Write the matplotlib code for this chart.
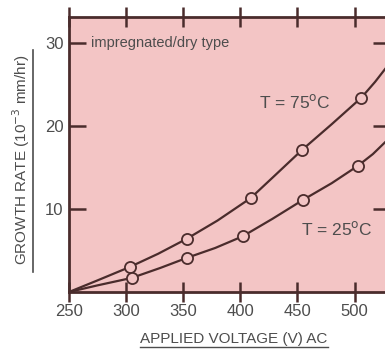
import matplotlib
matplotlib.use('Agg')
import matplotlib.pyplot as plt
from matplotlib.lines import Line2D

plt.rcParams['font.family'] = ['Liberation Sans', 'DejaVu Sans']

# measured points (applied voltage V, growth rate 1e-3 mm/hr)
volt_75 = [303, 353, 409, 454, 506]
rate_75 = [3.0, 6.4, 11.3, 17.1, 23.4]
volt_25 = [305, 353, 402, 455, 503]
rate_25 = [1.7, 4.1, 6.7, 11.1, 15.2]

# traced fitted curves
curve_v75 = [250, 275, 303, 328, 353, 380, 409, 430, 454, 480, 506, 518, 531]
curve_r75 = [0.0, 1.4, 3.0, 4.6, 6.4, 8.6, 11.3, 14.0, 17.1, 20.2, 23.4, 25.3, 27.6]
curve_v25 = [250, 275, 305, 330, 353, 378, 402, 428, 455, 480, 503, 516, 531]
curve_r25 = [0.0, 0.8, 1.7, 2.9, 4.1, 5.3, 6.7, 8.8, 11.1, 13.1, 15.2, 16.6, 18.6]

xticks = [250, 300, 350, 400, 450, 500]
yticks = [10, 20, 30]

ink = '#4a2c2c'
txt = '#4d4d4d'
bg = '#f3c5c5'

fig = plt.figure(figsize=(3.85, 3.49), dpi=100)
ax = fig.add_axes([69 / 385, 57 / 349, 321 / 385, 275 / 349])
ax.set_facecolor(bg)

ax.plot(curve_v75, curve_r75, color=ink, lw=1.6, zorder=2)
ax.plot(curve_v25, curve_r25, color=ink, lw=1.6, zorder=2)
ax.plot(volt_75, rate_75, 'o', ms=8, mfc=bg, mec=ink, mew=1.3, zorder=3)
ax.plot(volt_25, rate_25, 'o', ms=8, mfc=bg, mec=ink, mew=1.3, zorder=3)

ax.set_xlim(250, 531)
ax.set_ylim(0, 33.1)
ax.set_xticks(xticks)
ax.set_yticks(yticks)
for s in ax.spines.values():
    s.set_color(ink)
    s.set_linewidth(2)

ax.tick_params(axis='x', direction='inout', length=14, width=1.8, color=ink,
               top=True, labelsize=12, labelcolor=txt, pad=2)
ax.tick_params(axis='y', direction='in', length=12, width=1.8, color=ink,
               right=True, labelsize=12, labelcolor=txt, pad=4)

ax.text(269, 30, 'impregnated/dry type', fontsize=10.5, color=txt, va='center')
ax.text(416.5, 22.9, 'T = 75$^{\\rm o}$C', fontsize=12.5, color=txt, va='center')
ax.text(453.5, 7.6, 'T = 25$^{\\rm o}$C', fontsize=12.5, color=txt, va='center')

fig.text(234 / 385, 1 - 339 / 349, 'APPLIED VOLTAGE (V) AC', fontsize=11,
         color=txt, ha='center', va='center')
fig.add_artist(Line2D([140 / 385, 328 / 385], [1 - 347 / 349, 1 - 347 / 349],
                      color=txt, lw=1))
fig.text(21 / 385, 1 - 160 / 349, 'GROWTH RATE (10$^{-3}$ mm/hr)', fontsize=11,
         color=txt, ha='center', va='center', rotation=90)
fig.add_artist(Line2D([33 / 385, 33 / 385], [1 - 272 / 349, 1 - 50 / 349],
                      color=txt, lw=1.2))

fig.savefig('out.png', dpi=100)
